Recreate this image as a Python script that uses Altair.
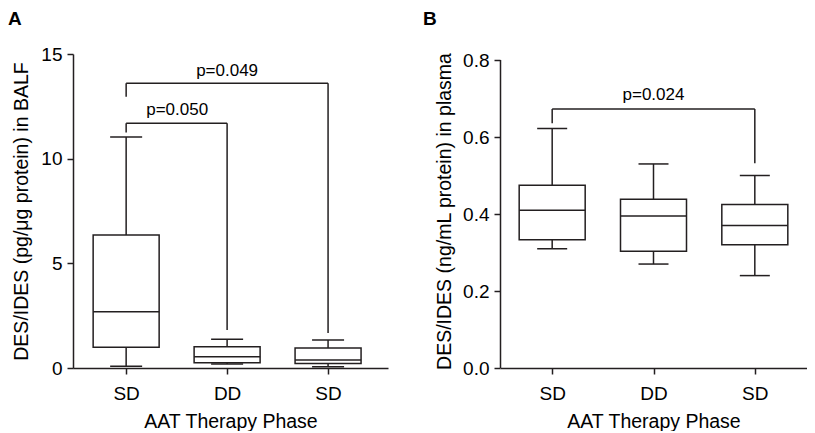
import altair as alt
import pandas as pd

FONT = "Liberation Sans"
INK = "#231f20"

# categories (the two SD phases are distinct groups)
cats = ["SD1", "DD", "SD2"]

# Panel A: DES/IDES in BALF (box-plot statistics)
a_low = [0.08, 0.19, 0.06]
a_q1 = [0.99, 0.25, 0.22]
a_med = [2.69, 0.54, 0.38]
a_q3 = [6.35, 1.02, 0.96]
a_high = [11.04, 1.37, 1.34]

# Panel B: DES/IDES in plasma
b_low = [0.31, 0.27, 0.24]
b_q1 = [0.333, 0.303, 0.32]
b_med = [0.41, 0.395, 0.37]
b_q3 = [0.475, 0.438, 0.425]
b_high = [0.622, 0.53, 0.50]

# significance brackets
a_br_from = ["SD1", "SD1"]
a_br_to = ["SD2", "DD"]
a_br_y = [13.6, 11.69]
a_br_left_end = [12.96, 11.25]
a_br_right_end = [1.67, 1.82]
a_br_label = ["p=0.049", "p=0.050"]
a_br_label_y = [13.95, 12.09]

b_br_from = ["SD1"]
b_br_to = ["SD2"]
b_br_y = [0.673]
b_br_left_end = [0.636]
b_br_right_end = [0.532]
b_br_label = ["p=0.024"]
b_br_label_y = [0.696]

a_yticks = [0, 5, 10, 15]
b_yticks = [0.0, 0.2, 0.4, 0.6, 0.8]


def panel(low, q1, med, q3, high, br_from, br_to, br_y, br_lend, br_rend,
          br_label, br_label_y, label_dx, ydomain, yticks, yfmt, ytitle,
          title_x, letter, letter_x, width, pad, align, cap, manual_domain):
    box = pd.DataFrame({"cat": cats, "low": low, "q1": q1, "med": med,
                        "q3": q3, "high": high})
    caps = pd.concat([
        pd.DataFrame({"cat": cats, "v": low}),
        pd.DataFrame({"cat": cats, "v": high}),
    ])
    br = pd.DataFrame({"from": br_from, "to": br_to, "y": br_y})
    legs = pd.concat([
        pd.DataFrame({"cat": br_from, "top": br_y, "end": br_lend}),
        pd.DataFrame({"cat": br_to, "top": br_y, "end": br_rend}),
    ])

    xscale = alt.Scale(type="point", domain=cats, padding=pad, align=align)
    xaxis = alt.Axis(
        labelAngle=0, labelExpr="substring(datum.label, 0, 2)",
        labelBaseline="alphabetic", labelPadding=25, tickSize=6,
        labelFontSize=19, labelColor="black", labelFont=FONT,
        title="AAT Therapy Phase", titleFontSize=19.5, titleFont=FONT,
        titleFontWeight="normal", titleColor="black", titleY=59,
        titleBaseline="alphabetic", domainColor=INK, tickColor=INK,
        domainWidth=1.5, tickWidth=1.5, grid=False,
    )
    yscale = alt.Scale(domain=ydomain, nice=False, zero=False)
    yaxis = alt.Axis(
        values=yticks, format=yfmt, tickSize=6, labelPadding=5,
        labelFontSize=19, labelColor="black", labelFont=FONT,
        title=ytitle, titleFontSize=19.5, titleFont=FONT,
        titleFontWeight="normal", titleColor="black", titleX=title_x,
        titleBaseline="alphabetic", domain=not manual_domain,
        domainColor=INK, tickColor=INK, domainWidth=1.5, tickWidth=1.5,
        grid=False,
    )

    def X(field):
        return alt.X(field, type="nominal", scale=xscale, axis=xaxis,
                     sort=cats)

    def Y(field):
        return alt.Y(field, type="quantitative", scale=yscale, axis=yaxis)

    whisk = alt.Chart(box).mark_rule(color=INK, strokeWidth=1.5).encode(
        x=X("cat"), y=Y("low"), y2="high")
    bars = alt.Chart(box).mark_bar(size=66, fill="white", stroke=INK,
                                   strokeWidth=1.5).encode(
        x=X("cat"), y=Y("q1"), y2="q3")
    medians = alt.Chart(box).mark_tick(size=66, thickness=1.5,
                                       color=INK, opacity=1).encode(
        x=X("cat"), y=Y("med"))
    capmarks = alt.Chart(caps).mark_tick(size=cap, thickness=1.5,
                                         color=INK, opacity=1).encode(
        x=X("cat"), y=Y("v"))
    hbr = alt.Chart(br).mark_rule(color=INK, strokeWidth=1.5).encode(
        x=X("from"), x2="to", y=Y("y"))
    vleg = alt.Chart(legs).mark_rule(color=INK, strokeWidth=1.5).encode(
        x=X("cat"), y=Y("top"), y2="end")

    layers = [whisk, bars, medians, capmarks, hbr, vleg]

    for lab, ly, lf, lt, dx in zip(br_label, br_label_y, br_from, br_to,
                                   label_dx):
        anchor = lf if dx else "DD"
        t = alt.Chart(pd.DataFrame({"cat": [anchor], "y": [ly],
                                    "t": [lab]})).mark_text(
            font=FONT, fontSize=17, color="black", align="center",
            baseline="alphabetic", dx=dx).encode(
            x=X("cat"), y=Y("y"), text="t:N")
        layers.append(t)

    if manual_domain:
        dom = alt.Chart(pd.DataFrame({"y0": [yticks[0]],
                                      "y1": [yticks[-1]]})).mark_rule(
            color=INK, strokeWidth=1.5).encode(
            x=alt.value(0.5), y=Y("y0"), y2="y1")
        layers.append(dom)

    let = alt.Chart(pd.DataFrame({"t": [letter]})).mark_text(
        font=FONT, fontSize=19, fontWeight="bold", color="black",
        align="left", baseline="alphabetic").encode(
        x=alt.value(letter_x), y=alt.value(-29), text="t:N")
    layers.append(let)

    return alt.layer(*layers).properties(width=width, height=314)


chart_a = panel(a_low, a_q1, a_med, a_q3, a_high, a_br_from, a_br_to,
                a_br_y, a_br_left_end, a_br_right_end, a_br_label,
                a_br_label_y, [0, 51], [0, 15], a_yticks, "d",
                "DES/IDES (pg/μg protein) in BALF", -46, "A", -65,
                315, 0.56, 0.47, 32, False)

chart_b = panel(b_low, b_q1, b_med, b_q3, b_high, b_br_from, b_br_to,
                b_br_y, b_br_left_end, b_br_right_end, b_br_label,
                b_br_label_y, [0], [0, 0.8 * 314 / 308], b_yticks, ".1f",
                "DES/IDES (ng/mL protein) in plasma", -50, "B", -77,
                307, 0.515, 0.5, 30, True)

chart = alt.hconcat(chart_a, chart_b, spacing=35).properties(
    padding={"top": 2, "left": 0, "right": 0, "bottom": 0}
).configure_view(stroke=None)

chart.save("out.html", embed_options={"renderer": "svg", "actions": False})
